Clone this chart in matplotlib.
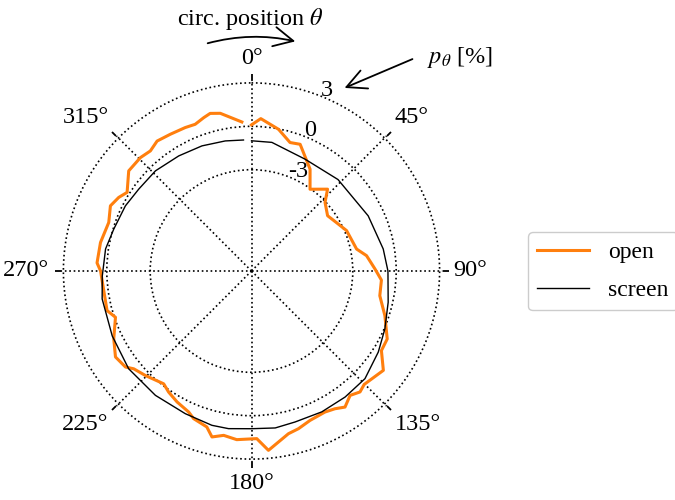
import matplotlib
matplotlib.use("Agg")
import matplotlib.pyplot as plt
import numpy as np

# circumferential pressure distribution
open_theta = [0, 3.5, 10.8, 16.7, 21, 29.9, 35.6, 42.9, 47, 54, 61.6, 67, 78.2, 82.4, 89,
              94, 100.9, 108.5, 116.6, 121.5, 127, 135.2, 138.1, 141.6, 145.5, 148.8, 152.5,
              158.6, 163.4, 167.2, 171, 174.6, 178.2, 185, 189.6, 193.4, 196, 201.4, 204,
              209.6, 214.4, 217.9, 225.4, 230.3, 232.7, 237.7, 243.8, 251.2, 254.7, 262.4,
              270, 273, 280.7, 288.8, 294.8, 299, 302.3, 309.2, 315.6, 319.9, 324, 329.3,
              335.2, 339, 342.7, 345.3, 348.8, 356.3]
open_p = [0.1, 0.55, -0.03, -0.73, -0.62, -1.88, -3.05, -2.28, -3.05, -3.5, -3.18, -2.86, -2.58,
          -1.98, -1.47, -1.0, -0.97, -0.28, 0.49, 0.53, 1.41, 1.05, 1.23, 0.97, 1.41, 1.13, 0.99,
          1.09, 1.37, 1.53, 1.96, 2.45, 1.59, 1.7, 1.52, 1.79, 1.21, 0.96, 0.67, 0.41, 0.14,
          -0.12, 0.29, 0.58, 0.95, 1.12, 0.61, -0.07, 0.35, 0.3, 0.43, 0.69, 0.62, 0.42, 0.74,
          0.49, 0.17, 0.95, 0.97, 0.85, 1.1, 0.99, 0.92, 0.86, 1.1, 1.26, 1.11, 0.32]

screen_theta = [0, 9, 25.6, 43.4, 64.7, 80.5, 90, 102.9, 113.5, 122.6, 133.5, 143.4, 153.5,
                163.9, 171.4, 180, 188.3, 194.4, 204.9, 217.7, 231.5, 245, 259.4, 268, 278.6,
                286.9, 297.3, 306, 316.2, 327.7, 338.4, 348.6, 356.5]
screen_p = [-1.0, -1.0, -1.43, -1.3, -1.08, -0.77, -0.57, -0.31, 0.05, 0.4, 0.81, 0.85, 0.88,
            0.86, 0.97, 0.9, 1.01, 1.01, 0.87, 0.86, 0.85, 0.62, 0.5, 0.32, 0.2, -0.05, -0.19,
            -0.37, -0.41, -0.59, -0.7, -0.83, -0.93]

r_ticks = [-3, 0, 3]
theta_ticks = [0, 45, 90, 135, 180, 225, 270, 315]

plt.rcParams['font.family'] = ['Liberation Serif', 'DejaVu Serif']
plt.rcParams['mathtext.fontset'] = 'stix'
plt.rcParams['axes.unicode_minus'] = False
plt.rcParams['font.size'] = 17.5

fig = plt.figure(figsize=(6.75, 5), dpi=100)
ax = fig.add_axes([60.5 / 675, 38 / 500, 382 / 675, 382 / 500], projection='polar')
ax.set_theta_zero_location('N')
ax.set_theta_direction(-1)

ax.plot(np.deg2rad(open_theta), open_p, color='tab:orange', lw=2.2, label='open')
ax.plot(np.deg2rad(screen_theta), screen_p, color='black', lw=1.0, label='screen')

ax.set_ylim(-10, 3.2)
ax.set_yticks(r_ticks)
ax.set_yticklabels([str(t) for t in r_ticks], va='baseline')
ax.set_rlabel_position(21.5)
ax.set_xticks(np.deg2rad(theta_ticks))
ax.set_xticklabels([f'{t}°' for t in theta_ticks])
ax.tick_params(axis='x', top=True, bottom=False, direction='out', length=4, width=1.3,
               pad=-3)
# anchor theta labels on the side facing the circle
anchors = {0: ('center', 'bottom'), 45: ('left', 'bottom'), 90: ('left', 'center'),
           135: ('left', 'top'), 180: ('center', 'top'), 225: ('right', 'top'),
           270: ('right', 'center'), 315: ('right', 'bottom')}
for t, lab in zip(theta_ticks, ax.get_xticklabels()):
    lab.set_ha(anchors[t][0])
    lab.set_va(anchors[t][1])
ax.grid(True, color='black', ls=':', lw=1.2)
ax.spines['polar'].set_visible(False)

fig.legend(loc='upper left', bbox_to_anchor=(528 / 675, 1 - 232 / 500), borderaxespad=0,
           fontsize=17, handlelength=2.2, labelspacing=0.7, edgecolor='0.8', framealpha=1)

fig.text(250 / 675, 1 - 19 / 500, r'circ. position $\theta$', ha='center', va='center')
fig.text(460 / 675, 1 - 58 / 500, r'$p_\theta$ [%]', ha='center', va='center')
ax.annotate('', xy=(298 / 675, 1 - 42 / 500), xytext=(205 / 675, 1 - 44 / 500),
            xycoords='figure fraction', textcoords='figure fraction', annotation_clip=False,
            arrowprops=dict(arrowstyle='->,head_length=0.8,head_width=0.4', lw=1.3,
                            connectionstyle='arc3,rad=-0.13'))
ax.annotate('', xy=(342 / 675, 1 - 89 / 500), xytext=(415 / 675, 1 - 58 / 500),
            xycoords='figure fraction', textcoords='figure fraction', annotation_clip=False,
            arrowprops=dict(arrowstyle='->,head_length=0.8,head_width=0.4', lw=1.3))

plt.savefig('out.png', dpi=100)
